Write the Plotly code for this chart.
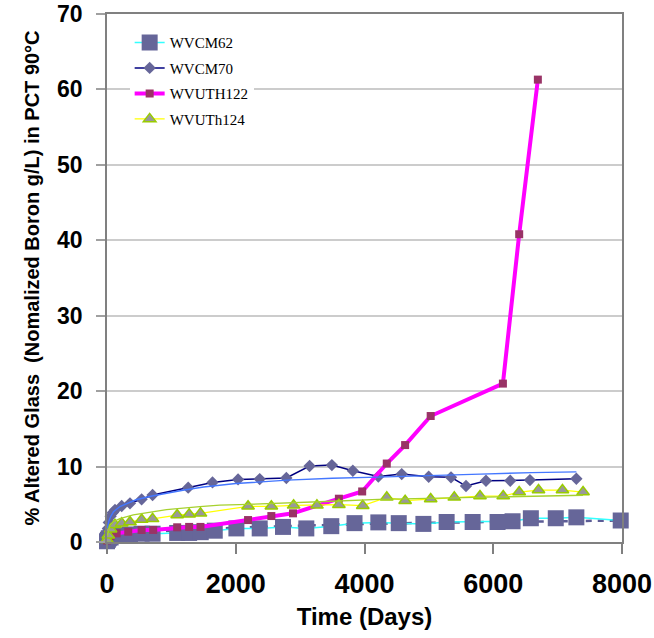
import plotly.graph_objects as go

# ---------------- data ----------------
# WVCM62
cm62_days = [0, 14, 28, 56, 120, 228, 357, 538, 708, 1090, 1276, 1456, 1674, 2010, 2372,
             2734, 3096, 3484, 3845, 4215, 4532, 4915, 5276, 5680, 6067, 6300, 6584, 6971,
             7291, 7980]
cm62_vals = [0.1, 0.3, 0.5, 0.6, 0.8, 0.9, 1.0, 1.1, 1.1, 1.2, 1.2, 1.3, 1.5, 1.8, 1.8,
             2.0, 1.8, 2.1, 2.5, 2.6, 2.5, 2.4, 2.65, 2.65, 2.65, 2.75, 3.15, 3.15,
             3.27, 2.85]
# WVCM70
cm70_days = [0, 14, 28, 56, 91, 124, 228, 357, 538, 708, 1261, 1639, 2036, 2372, 2786,
             3147, 3493, 3819, 4215, 4578, 4997, 5344, 5577, 5887, 6264, 6570, 7291]
cm70_vals = [0.5, 1.8, 2.6, 3.4, 3.9, 4.24, 4.77, 5.13, 5.66, 6.23, 7.2, 7.9, 8.3, 8.34,
             8.48, 10.07, 10.2, 9.44, 8.68, 9.0, 8.65, 8.57, 7.42, 8.12, 8.12, 8.21, 8.38]
# WVUTH122
uth122_days = [0, 20, 56, 150, 330, 538, 718, 1090, 1276, 1452, 2191, 2553, 2889, 3602,
               3964, 4346, 4631, 5028, 6150, 6403, 6693]
uth122_vals = [0.2, 0.4, 0.8, 1.15, 1.36, 1.59, 1.6, 1.95, 2.0, 2.0, 2.91, 3.44, 3.8, 5.74,
               6.7, 10.4, 12.85, 16.7, 21.0, 40.8, 61.3]
# WVUTh124
uth124_days = [0, 20, 56, 124, 228, 357, 538, 708, 1090, 1276, 1452, 2191, 2553, 2899,
               3261, 3602, 3973, 4346, 4631, 5028, 5395, 5794, 6155, 6403, 6703, 7075, 7395]
uth124_vals = [0.3, 0.9, 1.7, 2.3, 2.5, 2.65, 2.97, 3.07, 3.57, 3.67, 3.8, 4.73, 4.73, 4.86,
               4.86, 4.95, 4.82, 5.92, 5.48, 5.7, 5.92, 6.09, 6.09, 6.62, 6.89, 6.89, 6.62]

# trend lines
cm62_trend_days = [5, 100, 500, 1000, 2000, 3000, 4000, 5000, 6000, 7000, 7980]
cm62_trend_vals = [0.2, 0.7, 1.2, 1.5, 1.9, 2.2, 2.4, 2.55, 2.65, 2.75, 2.85]
cm70_trend_days = [5, 30, 60, 100, 200, 300, 450, 700, 1000, 1200, 1500, 2000, 2800,
                   3500, 4200, 5000, 5800, 6600, 7291]
cm70_trend_vals = [1.8, 2.8, 3.4, 4.0, 4.7, 5.1, 5.6, 6.1, 6.6, 6.9, 7.3, 7.75, 8.2,
                   8.45, 8.6, 8.85, 9.0, 9.2, 9.3]
uth124_trend_days = [5, 47, 100, 200, 408, 700, 925, 1442, 1752, 2200, 2786, 3500, 4222,
                     5000, 5800, 6662, 7395]
uth124_trend_vals = [0.8, 2.25, 2.7, 3.1, 3.6, 4.0, 4.3, 4.7, 4.9, 5.0, 5.15, 5.4, 5.65,
                     5.8, 5.95, 6.1, 6.2]

x_ticks = [0, 2000, 4000, 6000, 8000]
y_ticks = [0, 10, 20, 30, 40, 50, 60, 70]

x_title = "Time (Days)"
y_title = "% Altered Glass\u00a0 (Nomalized Boron g/L) in PCT 90°C"

# ---------------- figure ----------------
fig = go.Figure()

fig.add_trace(go.Scatter(x=cm62_trend_days, y=cm62_trend_vals, mode="lines",
                         line=dict(color="#5C5C96", width=2.5, dash="6px,6px"),
                         showlegend=False, hoverinfo="skip", cliponaxis=False,
                         legendgroup="t0"))
fig.add_trace(go.Scatter(x=cm62_days, y=cm62_vals, mode="lines+markers", name="WVCM62",
                         line=dict(color="#33FFFF", width=1.5),
                         marker=dict(symbol="square", size=16, color="#666699"),
                         cliponaxis=False, legendgroup="g1"))
fig.add_trace(go.Scatter(x=cm70_days, y=cm70_vals, mode="lines+markers", name="WVCM70",
                         line=dict(color="#000080", width=1.5),
                         marker=dict(symbol="diamond", size=9.5, color="#666699"),
                         cliponaxis=False, legendgroup="g2"))
fig.add_trace(go.Scatter(x=uth122_days, y=uth122_vals, mode="lines+markers", name="WVUTH122",
                         line=dict(color="#FF00FF", width=4),
                         marker=dict(symbol="square", size=8, color="#993366"),
                         cliponaxis=False, legendgroup="g3"))
fig.add_trace(go.Scatter(x=uth124_days, y=uth124_vals, mode="lines+markers", name="WVUTh124",
                         line=dict(color="#FFFF00", width=1.2),
                         marker=dict(symbol="triangle-up", size=11, color="#999999",
                                     line=dict(color="#99CC00", width=1.5)),
                         cliponaxis=False, legendgroup="g4"))
fig.add_trace(go.Scatter(x=cm70_trend_days, y=cm70_trend_vals, mode="lines",
                         line=dict(color="#4477FF", width=1.4),
                         showlegend=False, hoverinfo="skip", legendgroup="t1"))
fig.add_trace(go.Scatter(x=uth124_trend_days, y=uth124_trend_vals, mode="lines",
                         line=dict(color="#A6D12E", width=1.3),
                         showlegend=False, hoverinfo="skip", legendgroup="t2"))

fig.update_layout(
    width=654, height=638,
    margin=dict(l=107, r=32, t=14, b=96, autoexpand=False),
    paper_bgcolor="white", plot_bgcolor="white",
    showlegend=True,
    legend=dict(x=0.044, y=0.977, xanchor="left", yanchor="top",
                bgcolor="white", borderwidth=0,
                font=dict(family="Liberation Serif, Times New Roman", size=15, color="black"),
                traceorder="grouped", tracegroupgap=3, itemwidth=30),
    xaxis=dict(range=[0, 8000], tickvals=x_ticks, ticktext=[str(v) for v in x_ticks],
               showgrid=False, zeroline=False, automargin=False,
               showline=True, linecolor="#808080", linewidth=1.5, mirror=True,
               ticks="outside", ticklen=10, tickcolor="#808080", tickwidth=1.5,
               ticklabelstandoff=7,
               tickfont=dict(family="Liberation Sans, Arial", size=27, color="black",
                             weight="bold"),
               title=dict(text=x_title, standoff=10,
                          font=dict(family="Liberation Sans, Arial", size=24,
                                    color="black", weight="bold"))),
    yaxis=dict(range=[0, 70], tickvals=y_ticks, ticktext=[str(v) for v in y_ticks],
               showgrid=True, gridcolor="#CCCCCC", gridwidth=1.5, zeroline=False,
               automargin=False,
               showline=True, linecolor="#808080", linewidth=1.5, mirror=True,
               ticks="outside", ticklen=9, tickcolor="#A0A0A0", tickwidth=1.5,
               ticklabelstandoff=9,
               tickfont=dict(family="Liberation Sans, Arial", size=23, color="black",
                             weight="bold"),
               title=dict(text=y_title, standoff=12,
                          font=dict(family="Liberation Sans, Arial", size=20,
                                    color="black", weight="bold"))),
)

# remove the browser's default 8 px body margin so the figure sits at the page origin
fig.write_html("out.html", config={"displayModeBar": False},
               post_script="document.body.style.margin='0';")
